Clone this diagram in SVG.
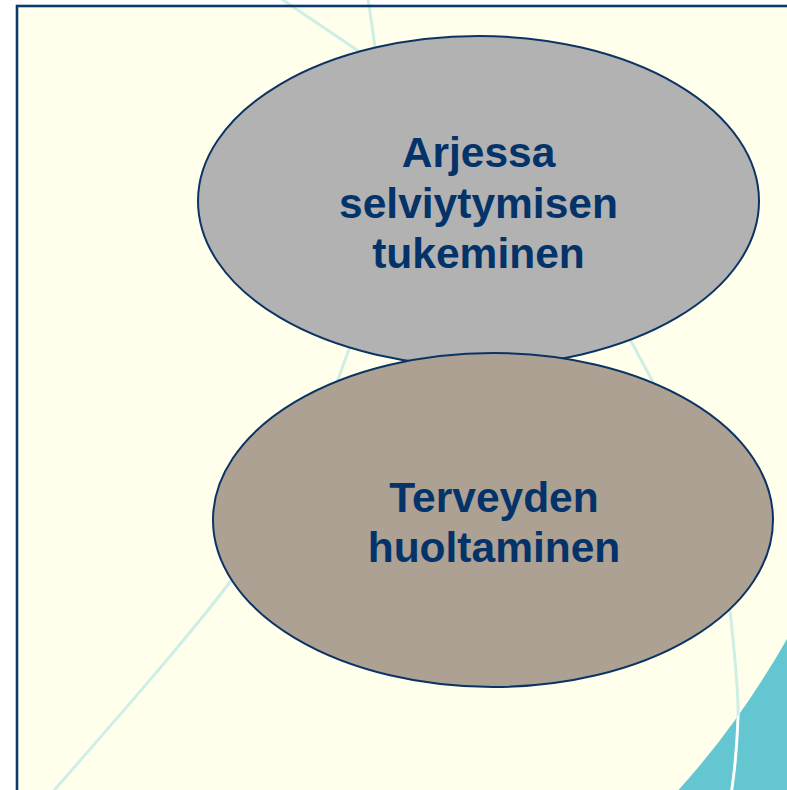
<svg xmlns="http://www.w3.org/2000/svg" width="787" height="790" viewBox="0 0 787 790">
  <style>
    .curve { fill: none; stroke: #CDEFE6; stroke-width: 3; }
    .curve-on-teal { fill: none; stroke: #FFFFFF; stroke-width: 2.5; }
    .node-shape { stroke: #0B3464; stroke-width: 2; }
    .label { font-family: "Liberation Sans", Arial, sans-serif; font-weight: bold; font-size: 42.5px; fill: #04336A; text-anchor: middle; }
  </style>
  <defs>
    <path id="tealShape" d="M 792 630 Q 741 722 674 795 L 795 795 Z"/>
    <clipPath id="tealClip"><use href="#tealShape"/></clipPath>
    <path id="curveA" d="M 280 -2 L 357 50 C 450 115 600 280 632 343 L 653 382 C 690 470 725 560 730 610 C 734 650 739 690 738 718 C 737 745 735 770 731 795"/>
    <path id="curveB" d="M 368 -2 L 375 47 C 395 180 370 300 348 352 L 337 382 C 300 450 260 540 230 582 C 190 635 120 715 50 795"/>
  </defs>

  <g id="background">
    <rect x="0" y="0" width="787" height="790" fill="#FFFFFF"/>
    <rect x="17" y="6" width="800" height="800" fill="#FFFFEC"/>
    <use href="#tealShape" fill="#63C6D1"/>
    <use href="#curveA" class="curve"/>
    <use href="#curveB" class="curve"/>
    <use href="#curveA" class="curve-on-teal" clip-path="url(#tealClip)"/>
    <rect x="17" y="6" width="800" height="800" fill="none" stroke="#0B3A6E" stroke-width="2.6"/>
  </g>

  <g id="connectors"></g>

  <g id="node-arjessa">
    <ellipse class="node-shape" cx="478.5" cy="201" rx="280.5" ry="165" fill="#B2B2B2"/>
    <text class="label" x="478.5" y="167">Arjessa</text>
    <text class="label" x="478.5" y="218">selviytymisen</text>
    <text class="label" x="478.5" y="268">tukeminen</text>
  </g>

  <g id="node-terveyden">
    <ellipse class="node-shape" cx="493" cy="520" rx="280" ry="167" fill="#ADA193"/>
    <text class="label" x="494" y="512">Terveyden</text>
    <text class="label" x="494" y="562">huoltaminen</text>
  </g>
</svg>
